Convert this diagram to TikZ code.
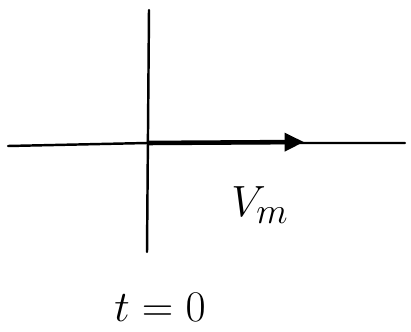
\documentclass[tikz,border=0pt]{standalone}
\usepackage{amsmath}
\usepackage{tikz}
\usetikzlibrary{arrows.meta,positioning}

\begin{document}
\begin{tikzpicture}[
    x=0.02cm, y=-0.02cm,
    axis/.style={line width=1.4pt, line cap=round},
    vec/.style={-{Triangle[length=11pt,width=10pt]}, line width=2.6pt},
    lbl/.style={font=\fontsize{28}{30}\selectfont}
]
\useasboundingbox (0,0) rectangle (411,331);

\coordinate (origin) at (147,143);
\coordinate (top) at (149,10);
\coordinate (bottom) at (147,252);
\coordinate (left) at (8,146);
\coordinate (right) at (405,143);
\coordinate (tip) at (304,142);

% axes
\draw[axis] (top) -- (bottom);
\draw[axis] (left) -- (origin) -- (right);

% vector
\draw[vec] (origin) -- (tip);

\node[lbl] (vm) at (260,205) {$V_m$};
\node[lbl] (time) at (160,307) {$t=0$};

\end{tikzpicture}
\end{document}
